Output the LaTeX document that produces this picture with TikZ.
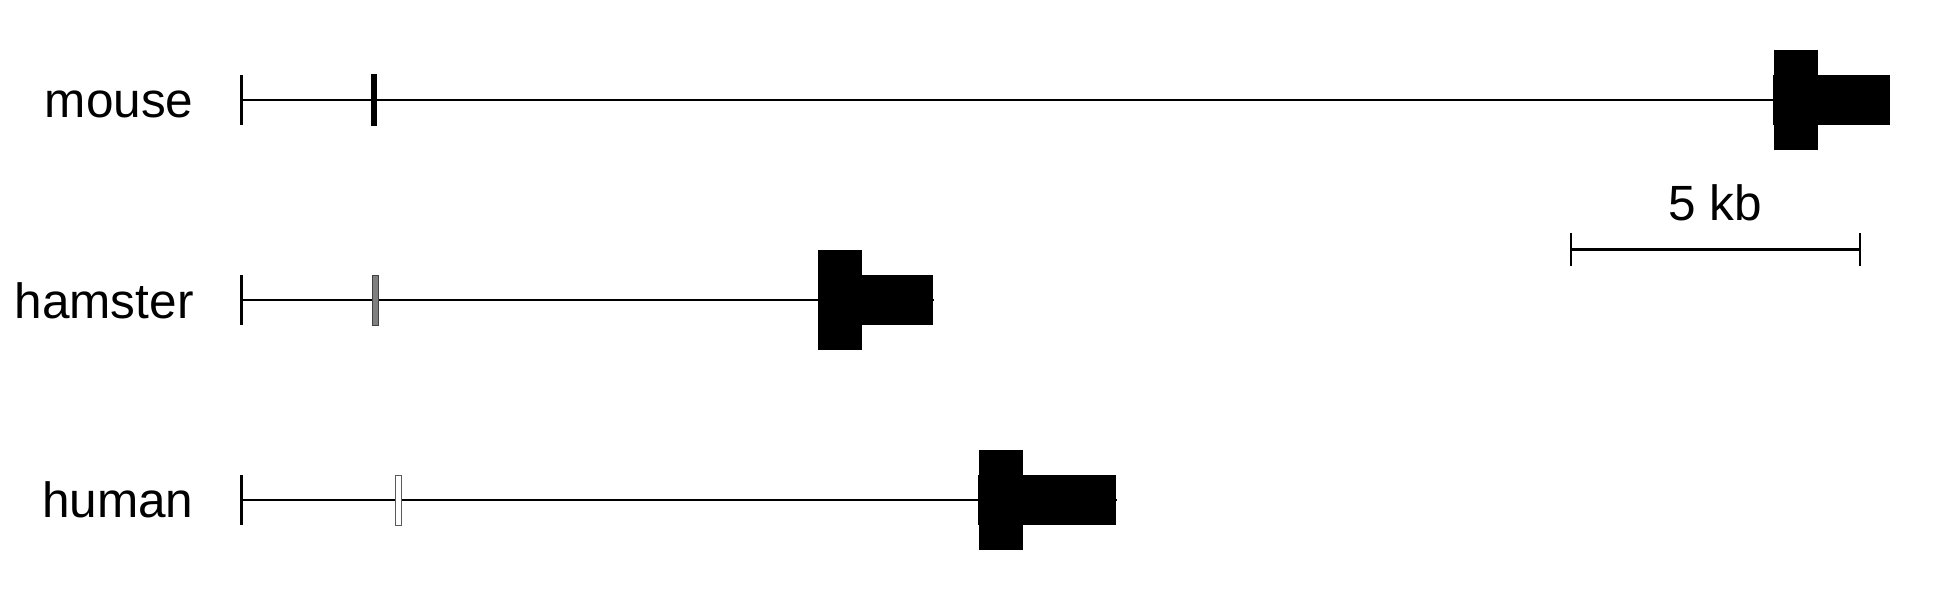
\documentclass[tikz,border=0pt]{standalone}
\usepackage{fontspec}
\setmainfont{Liberation Sans}
\begin{document}
\begin{tikzpicture}[x=0.4pt,y=-0.4pt,
  lbl/.style={anchor=base east, inner sep=0pt, font=\fontsize{19.8}{24}\selectfont},
  gline/.style={line width=1pt},
  starttick/.style={line width=1.3pt},
  barline/.style={line width=1pt},
  bartick/.style={line width=1.1pt}]
\useasboundingbox (0,0) rectangle (1950,600);

% labels
\node[lbl] (lmouse) at (194,117) {mouse};
\node[lbl] (lhamster) at (194,318) {hamster};
\node[lbl] (lhuman) at (194,517) {human};

% mouse
\coordinate (ms) at (241.5,100);
\coordinate (me) at (1890,100);
\draw[gline] (ms) -- (me);
\draw[starttick] (241.5,75) -- (241.5,125);
\fill[black] (371,74) rectangle (377,126);
\fill[black] (1774,50) rectangle (1818,150);
\fill[black] (1773,75) rectangle (1890,125);

% hamster
\coordinate (hs) at (241.5,300);
\coordinate (he) at (934,300);
\draw[gline] (hs) -- (he);
\draw[starttick] (241.5,275) -- (241.5,325);
\filldraw[fill=gray, draw=gray!50!black, line width=0.4pt] (372,275) rectangle (378.5,325);
\fill[black] (818,250) rectangle (862,350);
\fill[black] (818,275) rectangle (933,325);

% human
\coordinate (us) at (241.5,500);
\coordinate (ue) at (1117,500);
\draw[gline] (us) -- (ue);
\draw[starttick] (241.5,475) -- (241.5,525);
\filldraw[fill=white, draw=gray!70!black, line width=0.4pt] (395,475) rectangle (401.5,525);
\fill[black] (979,450) rectangle (1023,550);
\fill[black] (978,475) rectangle (1116,525);

% scale bar
\coordinate (sa) at (1571,249.5);
\coordinate (sb) at (1860,249.5);
\draw[barline] (sa) -- (sb);
\draw[bartick] (1571,233) -- (1571,266);
\draw[bartick] (1860,233) -- (1860,266);
\node[anchor=base, inner sep=0pt, font=\fontsize{19.8}{24}\selectfont] (kb) at (1715.5,220) {5 kb};
\end{tikzpicture}
\end{document}
